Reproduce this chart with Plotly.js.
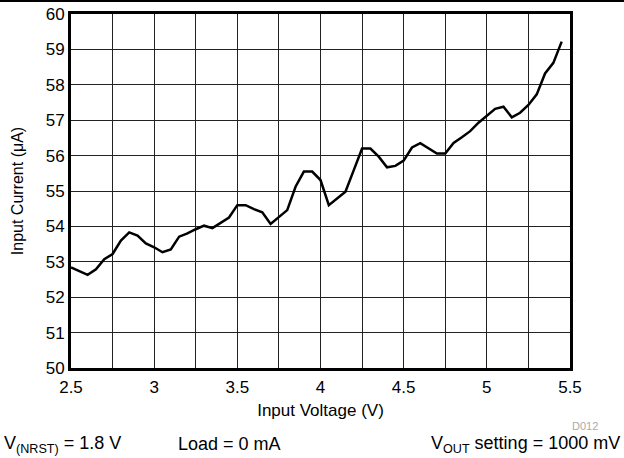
<!DOCTYPE html>
<html>
<head>
<meta charset="utf-8">
<script src="https://cdn.plot.ly/plotly-3.0.1.min.js"></script>
<style>
html,body{margin:0;padding:0;background:#fff;}
#topline{position:absolute;left:0;top:0;width:624px;height:2px;background:#000;}
#chart{width:624px;height:458px;}
</style>
</head>
<body>
<div id="chart"></div>
<div id="topline"></div>
<script>
const inputVoltage = [2.50,2.60,2.65,2.70,2.75,2.80,2.85,2.90,2.95,3.00,3.05,3.10,3.15,3.20,3.25,3.30,3.35,3.40,3.45,3.50,3.55,3.60,3.65,3.70,3.75,3.80,3.85,3.90,3.95,4.00,4.05,4.10,4.15,4.20,4.25,4.30,4.35,4.40,4.45,4.50,4.55,4.60,4.65,4.70,4.75,4.80,4.85,4.90,4.95,5.00,5.05,5.10,5.15,5.20,5.25,5.30,5.35,5.40,5.45];
const inputCurrent = [52.84,52.63,52.79,53.07,53.22,53.60,53.83,53.74,53.52,53.41,53.27,53.35,53.71,53.80,53.92,54.02,53.95,54.09,54.25,54.60,54.60,54.49,54.40,54.07,54.27,54.46,55.12,55.55,55.55,55.31,54.60,54.78,54.98,55.59,56.20,56.20,55.97,55.67,55.71,55.86,56.23,56.35,56.20,56.06,56.06,56.36,56.52,56.69,56.93,57.12,57.32,57.38,57.08,57.21,57.43,57.73,58.32,58.62,59.22];
const xTickVals = [2.5,3,3.5,4,4.5,5,5.5];
const xTickText = ['2.5','3','3.5','4','4.5','5','5.5'];
const yTickVals = [50,51,52,53,54,55,56,57,58,59,60];

const font = 'Liberation Sans, Arial, sans-serif';
const data = [{
  x: inputVoltage, y: inputCurrent, type: 'scatter', mode: 'lines',
  line: {color: '#000', width: 2.5}, showlegend: false, hoverinfo: 'none'
}];
const layout = {
  width: 624, height: 458,
  margin: {l: 71, r: 54, t: 14, b: 90},
  paper_bgcolor: '#fff', plot_bgcolor: '#fff',
  font: {family: font, color: '#000', size: 16},
  xaxis: {
    range: [2.5, 5.5], tickvals: xTickVals, ticktext: xTickText,
    showgrid: true, gridcolor: '#222', gridwidth: 1,
    minor: {dtick: 0.25, tick0: 2.5, showgrid: true, gridcolor: '#222', gridwidth: 1},
    showline: true, linecolor: '#000', linewidth: 3, mirror: true,
    ticks: '', zeroline: false, ticklabelstandoff: 2,
    tickfont: {size: 17, family: font},
    title: {text: 'Input Voltage (V)', font: {size: 17, family: font}, standoff: 8}
  },
  yaxis: {
    range: [50, 60], tickvals: yTickVals,
    showgrid: true, gridcolor: '#222', gridwidth: 1,
    showline: true, linecolor: '#000', linewidth: 3, mirror: true,
    ticks: '', zeroline: false,
    tickfont: {size: 17, family: font},
    title: {text: 'Input Current (μA)', font: {size: 16, family: font}, standoff: 19}
  },
  annotations: [
    {text: 'D012', xref: 'paper', yref: 'paper', x: 1.06, y: -0.163, xanchor: 'right', yanchor: 'middle', showarrow: false, font: {size: 11, color: '#aaa', family: font}},
    {text: 'V<sub>(NRST)</sub> = 1.8 V', xref: 'paper', yref: 'paper', x: -0.138, y: -0.215, xanchor: 'left', yanchor: 'middle', showarrow: false, font: {size: 18, family: font}},
    {text: 'Load = 0 mA', xref: 'paper', yref: 'paper', x: 0.21, y: -0.215, xanchor: 'left', yanchor: 'middle', showarrow: false, font: {size: 18, family: font}},
    {text: 'V<sub>OUT</sub> setting = 1000 mV', xref: 'paper', yref: 'paper', x: 1.104, y: -0.215, xanchor: 'right', yanchor: 'middle', showarrow: false, font: {size: 18, family: font}}
  ]
};
Plotly.newPlot('chart', data, layout, {displayModeBar: false, staticPlot: true});
</script>
</body>
</html>
